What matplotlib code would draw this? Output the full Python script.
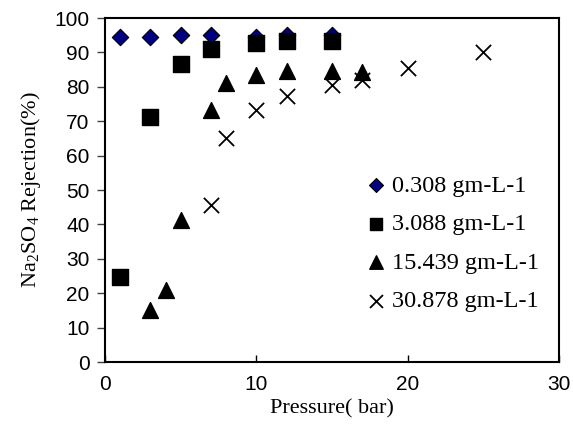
import matplotlib
matplotlib.use("Agg")
import matplotlib.pyplot as plt

plt.rcParams['mathtext.default'] = 'regular'

labels = ["0.308 gm-L-1", "3.088 gm-L-1", "15.439 gm-L-1", "30.878 gm-L-1"]

x1 = [1, 3, 5, 7, 10, 12, 15]
y1 = [94.6, 94.6, 95.0, 95.0, 94.6, 95.0, 95.0]

x2 = [1, 3, 5, 7, 10, 12, 15]
y2 = [24.8, 71.2, 86.6, 90.9, 92.6, 93.2, 93.2]

x3 = [3, 4, 5, 7, 8, 10, 12, 15, 17]
y3 = [15.1, 20.9, 41.3, 73.3, 81.0, 83.4, 84.7, 84.7, 84.4]

x4 = [7, 8, 10, 12, 15, 17, 20, 25]
y4 = [45.6, 65.0, 73.3, 77.4, 80.5, 82.0, 85.4, 90.2]

xticks = [0, 10, 20, 30]
yticks = [0, 10, 20, 30, 40, 50, 60, 70, 80, 90, 100]

fig = plt.figure(figsize=(5.73, 4.37), dpi=100)
ax = fig.add_axes([0.1832, 0.1716, 0.7924, 0.7872])

ax.scatter(x1, y1, marker='D', s=70, facecolor='#000080', edgecolor='black', linewidths=0.8, label=labels[0], zorder=3)
ax.scatter(x2, y2, marker='s', s=120, facecolor='black', edgecolor='black', label=labels[1], zorder=3)
ax.scatter(x3, y3, marker='^', s=130, facecolor='black', edgecolor='black', label=labels[2], zorder=3)
ax.scatter(x4, y4, marker='x', s=120, color='black', linewidths=1.3, label=labels[3], zorder=3)

ax.set_xlim(0, 30)
ax.set_ylim(0, 100)
ax.set_xticks(xticks)
ax.set_yticks(yticks)
ax.tick_params(axis='x', direction='in', length=5, width=1, labelsize=15, pad=9)
ax.tick_params(axis='y', direction='out', length=6, width=1, labelsize=15, pad=5, color='#404040')
for t in ax.get_xticklabels() + ax.get_yticklabels():
    t.set_family('Liberation Sans')
for sp in ax.spines.values():
    sp.set_linewidth(1.5)

ax.set_xlabel("Pressure( bar)", family='Liberation Serif', fontsize=16, labelpad=4)
ax.set_ylabel("Na$_2$SO$_4$ Rejection(%)", family='Liberation Serif', fontsize=16, labelpad=8)

leg = ax.legend(loc='upper left', bbox_to_anchor=(0.57, 0.545), frameon=False,
                prop={'family': 'Liberation Serif', 'size': 17.5}, scatterpoints=1,
                markerscale=0.85,
                handletextpad=0.15, labelspacing=0.68, handlelength=1.0, borderaxespad=0,
                borderpad=0)

fig.savefig("out.png", dpi=100)
